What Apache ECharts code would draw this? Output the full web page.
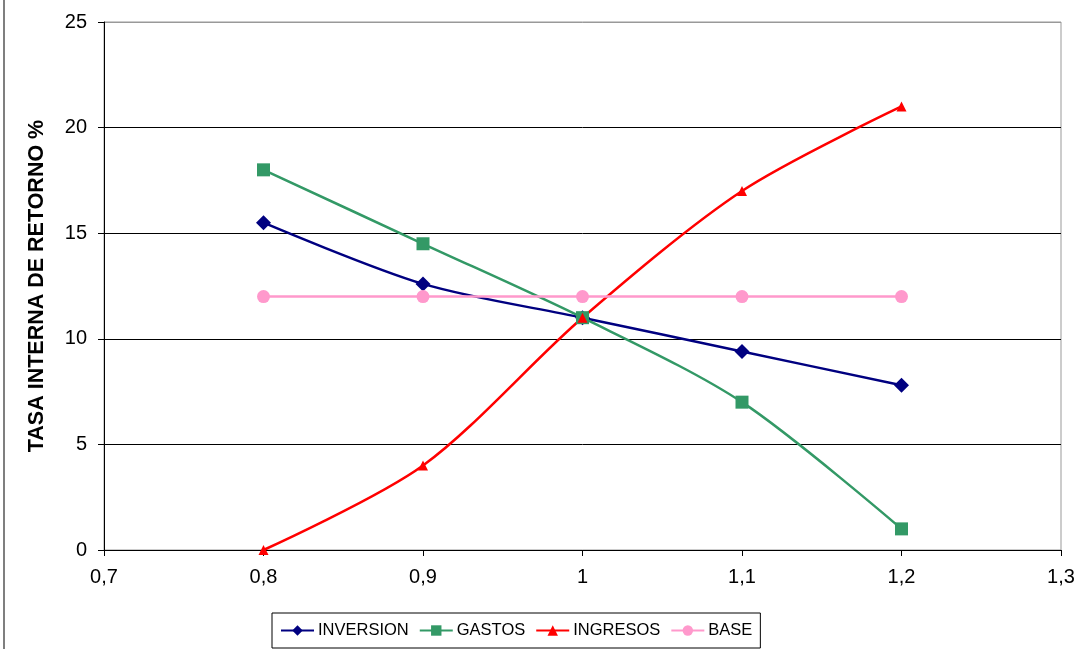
<!DOCTYPE html>
<html><head><meta charset="utf-8">
<script src="https://cdn.jsdelivr.net/npm/echarts@6/dist/echarts.min.js"></script>
<style>html,body{margin:0;padding:0;background:#fff}#c{width:1083px;height:649px}</style>
</head><body><div id="c"></div>
<script>
const xValues = [0.8, 0.9, 1.0, 1.1, 1.2];
const inversion = [15.5, 12.6, 11.0, 9.4, 7.8];
const gastos = [18.0, 14.5, 11.0, 7.0, 1.0];
const ingresos = [0.0, 4.0, 11.0, 17.0, 21.0];
const base = [12, 12, 12, 12, 12];
const seriesNames = ['INVERSION', 'GASTOS', 'INGRESOS', 'BASE'];
const yAxisTitle = 'TASA INTERNA DE RETORNO %';

const pair = arr => xValues.map((x, i) => [x, arr[i]]);
const font = 'Arial, Liberation Sans, sans-serif';
const chart = echarts.init(document.getElementById('c'), null, {renderer: 'canvas'});
function mk(name, data, color, symbol, size) {
  return {name, type: 'line', data: pair(data), smooth: 0.3, symbol, symbolSize: size,
    lineStyle: {color, width: 2.5}, itemStyle: {color}, emphasis: {disabled: true}, z: 3};
}
chart.setOption({
  animation: false,
  backgroundColor: '#fff',
  grid: {left: 104, right: 22, top: 22, bottom: 99, show: true, borderColor: '#999', borderWidth: 1},
  xAxis: {type: 'value', min: 0.7, max: 1.3, interval: 0.1,
    axisLine: {lineStyle: {color: '#000', width: 1}},
    axisTick: {show: true, inside: false, length: 6, lineStyle: {color: '#000'}},
    splitLine: {show: false},
    axisLabel: {color: '#000', fontSize: 20, fontFamily: font, margin: 17,
      formatter: v => { const r = Math.round(v * 10) / 10; return r === 1 ? '1' : r.toFixed(1).replace('.', ','); }}
  },
  yAxis: {type: 'value', min: 0, max: 25, interval: 5,
    name: yAxisTitle, nameLocation: 'middle', nameGap: 56, nameRotate: 90,
    nameTextStyle: {color: '#000', fontSize: 21.5, fontWeight: 'bold', fontFamily: font},
    axisLine: {show: true, lineStyle: {color: '#000', width: 1}},
    axisTick: {show: true, inside: false, length: 6, lineStyle: {color: '#000'}},
    splitLine: {show: true, lineStyle: {color: ['#000', '#000', '#000', '#000', '#000', '#999'], width: 1}},
    axisLabel: {color: '#000', fontSize: 20, fontFamily: font, margin: 17}
  },
  legend: {bottom: 1, left: 272, data: seriesNames, borderColor: '#000', borderWidth: 1,
    padding: [9, 8], itemGap: 10, itemWidth: 33, itemHeight: 13,
    textStyle: {color: '#000', fontSize: 16.5, fontFamily: font, padding: [0, 0, 0, -1]}},
  graphic: [{type: 'line', shape: {x1: 4, y1: 0, x2: 4, y2: 649}, style: {stroke: '#555', lineWidth: 1.5}}],
  series: [
    mk(seriesNames[0], inversion, '#000080', 'diamond', 15),
    mk(seriesNames[1], gastos, '#339966', 'rect', 13),
    mk(seriesNames[2], ingresos, '#ff0000', 'triangle', 10),
    mk(seriesNames[3], base, '#ff99cc', 'circle', 13)
  ]
});
</script></body></html>
